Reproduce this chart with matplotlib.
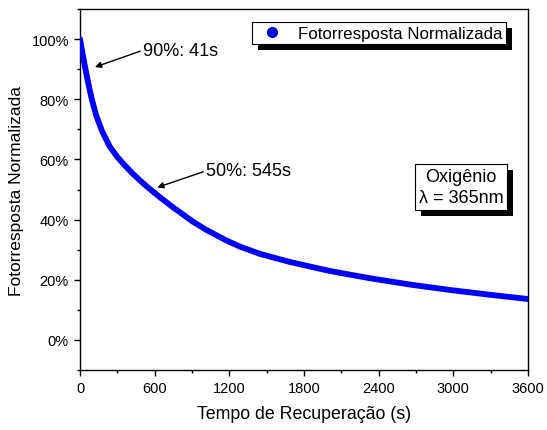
import matplotlib
matplotlib.use("Agg")
import matplotlib.pyplot as plt
import matplotlib.patheffects as pe
from matplotlib.lines import Line2D
from matplotlib.ticker import MultipleLocator, PercentFormatter

# recovery curve after switching the 365 nm light off (oxygen atmosphere)
tempo_s = [0, 20, 43, 65, 91, 130, 177, 240, 300, 360, 420, 482, 545, 643,
           750, 911, 1018, 1179, 1286, 1446, 1687, 2009, 2330, 2652, 2973,
           3295, 3600]
resposta_pct = [100, 95.2, 90.2, 85.6, 80.6, 74.6, 69.4, 64.2, 60.8, 58.0,
                55.4, 53.0, 50.7, 47.4, 44.0, 39.2, 36.5, 33.0, 31.0, 28.6,
                25.9, 22.9, 20.5, 18.4, 16.6, 15.0, 13.6]

FONT = "Liberation Sans"
BLUE = "#0000ff"

plt.rcParams["font.family"] = FONT
plt.rcParams["axes.linewidth"] = 1.0

fig = plt.figure(figsize=(5.47, 4.31), dpi=100)
ax = fig.add_axes([0.1463, 0.1392, 0.8190, 0.8376])

ax.plot(tempo_s, resposta_pct, color=BLUE, lw=4.2, solid_capstyle="round",
        solid_joinstyle="round", zorder=3)

ax.set_xlim(0, 3600)
ax.set_ylim(-10, 110)
ax.xaxis.set_major_locator(MultipleLocator(600))
ax.xaxis.set_minor_locator(MultipleLocator(300))
ax.yaxis.set_minor_locator(MultipleLocator(10))
ax.yaxis.set_major_formatter(PercentFormatter(decimals=0))
ax.set_yticks(range(0, 101, 20))
ax.tick_params(which="major", direction="out", length=4.5, width=1.0,
               labelsize=10.5, top=False, right=False)
ax.tick_params(which="minor", direction="out", length=2.5, width=1.0,
               top=False, right=False)

ax.set_xlabel("Tempo de Recuperação (s)", fontsize=12.8, labelpad=7)
ax.set_ylabel("Fotorresposta Normalizada", fontsize=12.5, labelpad=5)

arrow = dict(arrowstyle="-|>", color="black", lw=1.0, mutation_scale=9,
             relpos=(0, 0.5), shrinkA=0, shrinkB=0)
ax.annotate("90%: 41s", xy=(120, 90.7), xytext=(506, 96.3),
            fontsize=13, va="center", ha="left", arrowprops=arrow)
ax.annotate("50%: 545s", xy=(621, 50.7), xytext=(1013, 56.2),
            fontsize=13, va="center", ha="left", arrowprops=arrow)

shadow = [pe.SimplePatchShadow(offset=(4.3, -4.3), shadow_rgbFace="black",
                               alpha=1.0), pe.Normal()]

handle = Line2D([], [], ls="none", marker="o", markersize=7,
                markerfacecolor=BLUE, markeredgecolor="#0000aa")
leg = ax.legend([handle], ["Fotorresposta Normalizada"], loc="upper right",
                bbox_to_anchor=(0.951, 0.964), fontsize=12.2, fancybox=False,
                framealpha=1, edgecolor="black", borderpad=0.22,
                handletextpad=0.5, handlelength=2.0, borderaxespad=0)
leg.get_frame().set_linewidth(0.8)
leg.get_frame().set_path_effects(shadow)

txt = ax.text(0.850, 0.507, "Oxigênio\nλ = 365nm", transform=ax.transAxes,
              fontsize=13, ha="center", va="center", linespacing=1.25,
              bbox=dict(boxstyle="square,pad=0.22", fc="white", ec="black",
                        lw=0.8))
txt.get_bbox_patch().set_path_effects(shadow)

fig.savefig("out.png", dpi=100)
